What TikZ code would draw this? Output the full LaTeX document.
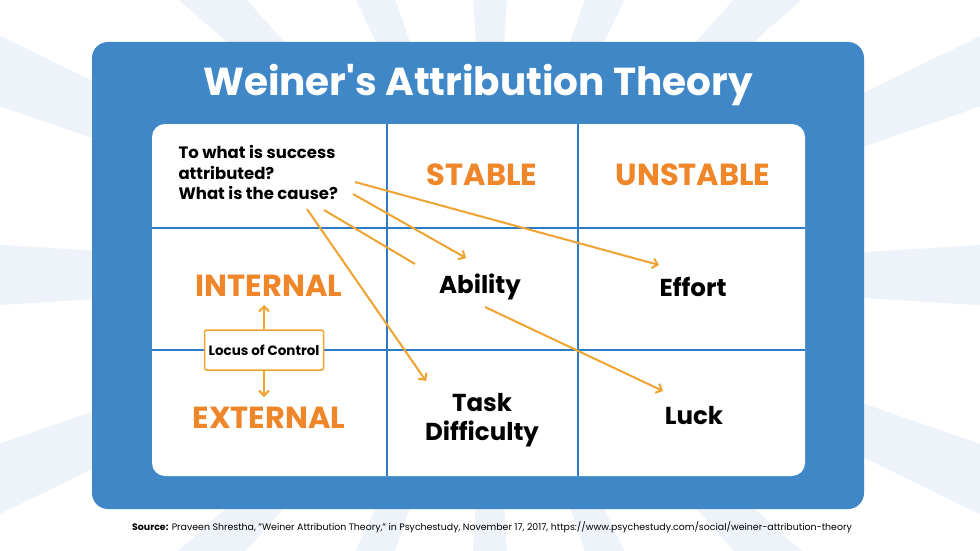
\documentclass[tikz,border=0pt]{standalone}
\usepackage{fontspec}
\setmainfont{Poppins}
\begin{document}
\begin{tikzpicture}[x=1pt,y=-1pt,
  grid/.style={draw=gridblue,line width=2pt},
  head/.style={font=\fontsize{30.5}{32}\selectfont\bfseries,text=headorange},
  cell/.style={font=\fontsize{24.5}{29}\selectfont\bfseries,align=center},
  arr/.style={draw=arrorange,line width=2pt,-{Straight Barb[length=5pt,width=10pt]}},
  lin/.style={draw=arrorange,line width=2pt}]
\definecolor{panel}{HTML}{3F87C7}
\definecolor{gridblue}{HTML}{2E7BC4}
\definecolor{headorange}{HTML}{F0862A}
\definecolor{arrorange}{HTML}{EFA330}
\definecolor{ray}{HTML}{EDF3F9}
\usetikzlibrary{arrows.meta}
\useasboundingbox (0,0) rectangle (980,551);
\fill[white] (0,0) rectangle (980,551);
\begin{scope}
\clip (0,0) rectangle (980,551);
\foreach \a in {0,22.5,...,350}{
  \fill[ray] (490,275) -- ++(\a-3.5:900) -- ++(\a+93.5:110) -- cycle;
}
\end{scope}
\fill[panel,rounded corners=16pt] (92,42) rectangle (864,509);
\node[font=\fontsize{39}{42}\selectfont\bfseries,text=white] (title) at (478,85) {Weiner\textquotesingle s Attribution Theory};
\fill[white,rounded corners=13pt] (152,124) rectangle (805,476);
\draw[grid] (387,124) -- (387,476);
\draw[grid] (578,124) -- (578,476);
\draw[grid] (152,228) -- (805,228);
\draw[grid] (152,350) -- (805,350);
\node[font=\fontsize{16.5}{20.5}\selectfont\bfseries,align=left,anchor=north west] (q) at (175,142) {To what is success\\attributed?\\What is the cause?};
\node[head] (stable) at (482,175) {STABLE};
\node[head] (unstable) at (693,175) {UNSTABLE};
\node[head] (internal) at (269,286) {INTERNAL};
\node[head] (external) at (269,418) {EXTERNAL};
\node[cell] (ability) at (480,287) {Ability};
\node[cell] (effort) at (693,287) {Effort};
\node[cell] (task) at (482,420) {Task\\Difficulty};
\node[cell] (luck) at (694,416) {Luck};
\node[draw=arrorange,line width=1.5pt,fill=white,rounded corners=2pt,minimum width=119pt,minimum height=40pt,font=\fontsize{13.5}{15}\selectfont\bfseries] (locus) at (264,350) {Locus of Control};
\draw[arr] (locus.north) -- (264,305);
\draw[arr] (locus.south) -- (264,397);
\coordinate (s1) at (355,182); \coordinate (e1) at (659,265);
\coordinate (s2) at (353,194); \coordinate (e2) at (466,258);
\coordinate (s3) at (324,210); \coordinate (e3) at (415,264);
\coordinate (s4) at (307,209); \coordinate (e4) at (426,381);
\coordinate (s5) at (485,307); \coordinate (e5) at (663,391);
\draw[arr] (s1) -- (e1);
\draw[arr] (s2) -- (e2);
\draw[lin] (s3) -- (e3);
\draw[arr] (s4) -- (e4);
\draw[arr] (s5) -- (e5);
\node[font=\fontsize{9.4}{11}\selectfont] (src) at (492,527) {\textbf{Source:} Praveen Shrestha, "Weiner Attribution Theory," in Psychestudy, November 17, 2017, https://www.psychestudy.com/social/weiner-attribution-theory};
\end{tikzpicture}
\end{document}
